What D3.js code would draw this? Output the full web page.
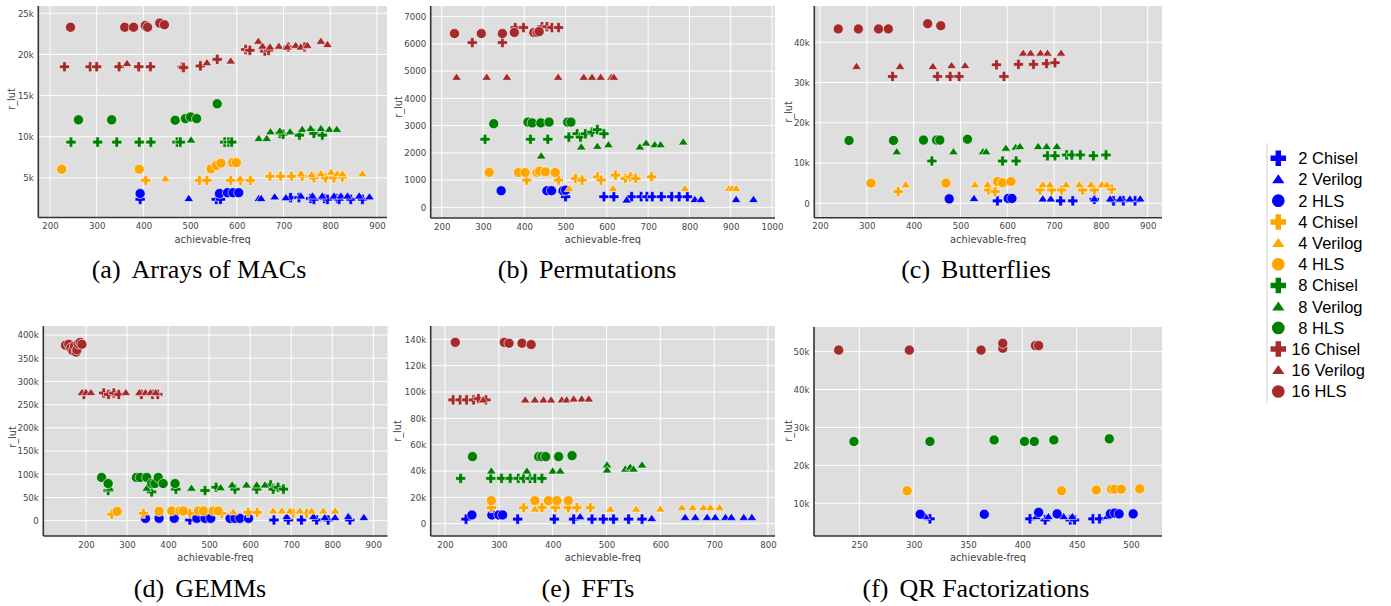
<!DOCTYPE html>
<html><head><meta charset="utf-8">
<script src="https://cdn.jsdelivr.net/npm/d3@7"></script>
<style>body{margin:0;background:#fff}svg{display:block}</style>
</head><body>
<svg id="chart" width="1391" height="606"></svg>
<script>
// ---------------- DATA ----------------
const seriesNames = ["2 Chisel","2 Verilog","2 HLS","4 Chisel","4 Verilog","4 HLS","8 Chisel","8 Verilog","8 HLS","16 Chisel","16 Verilog","16 HLS"];

// (a) Arrays of MACs: [series, [[achievable-freq, r_lut], ...]]
const macsData = [
 ["2 Chisel",[[393,2400],[556,2400],[565,2400],[715,2600],[733,2600],[758,2500],[765,2400],[787,2500],[794,2400],[815,2500],[819,2400],[844,2400],[869,2400]]],
 ["2 Verilog",[[497,2500],[647,2500],[652,2500],[681,2700],[705,2600],[737,2800],[762,2800],[783,2800],[808,2800],[823,2800],[837,2800],[862,2800],[884,2700]]],
 ["2 HLS",[[393,3100],[563,3100],[580,3200],[592,3200],[604,3200]]],
 ["4 Chisel",[[405,4700],[520,4700],[536,4700],[587,4700],[608,4700],[629,4700],[671,5200],[694,5200],[717,5200],[740,5200],[765,5000],[790,5000],[808,5000],[826,5100]]],
 ["4 Verilog",[[447,4900],[607,4900],[737,5500],[760,5400],[780,5500],[802,5700],[815,5500],[826,5500],[869,5500]]],
 ["4 HLS",[[225,6050],[391,6050],[545,6100],[556,6500],[566,6800],[591,6850],[599,6850]]],
 ["8 Chisel",[[245,9350],[302,9350],[343,9350],[391,9350],[416,9350],[472,9350],[479,9350],[574,9350],[582,9350],[589,9350],[692,10400],[699,10300],[734,10200],[765,10400],[783,10200]]],
 ["8 Verilog",[[502,9600],[647,9800],[664,9800],[672,10600],[692,10700],[714,10600],[740,10900],[758,11000],[780,11000],[798,10900],[814,10900]]],
 ["8 HLS",[[261,12050],[332,12050],[468,12000],[490,12200],[501,12400],[514,12200],[558,14000]]],
 ["16 Chisel",[[231,18500],[286,18500],[300,18500],[348,18500],[390,18500],[415,18500],[483,18500],[486,18400],[522,18600],[558,19400],[619,20600],[628,20500],[660,20400],[668,20500],[710,20900],[745,20900]]],
 ["16 Verilog",[[365,18900],[536,19000],[587,19200],[646,21600],[655,21000],[671,20900],[690,21000],[708,20900],[726,21100],[737,20900],[751,21100],[780,21600],[794,21200]]],
 ["16 HLS",[[244,23300],[360,23300],[379,23300],[404,23500],[409,23300],[435,23800],[445,23600]]]
];
const macsXTicks = [200,300,400,500,600,700,800,900];
const macsYTicks = [5000,10000,15000,20000,25000];
const macsYLabels = ["5k","10k","15k","20k","25k"];

// (b) Permutations
const permData = [
 ["2 Chisel",[[500,390],[593,390],[617,390],[660,390],[683,390],[697,390],[710,390],[732,390],[757,390],[775,390],[795,390]]],
 ["2 Verilog",[[648,270],[813,290],[828,290],[913,290],[955,290]]],
 ["2 HLS",[[344,610],[455,610],[466,610],[494,610],[500,630]]],
 ["4 Chisel",[[406,1000],[483,1000],[524,1060],[540,1000],[578,1120],[586,1000],[621,1180],[645,1060],[657,1120],[670,1060],[708,1120]]],
 ["4 Verilog",[[509,690],[615,690],[789,690],[896,690],[904,690],[913,690]]],
 ["4 HLS",[[315,1280],[386,1280],[402,1280],[431,1280],[437,1330],[451,1300],[475,1280]]],
 ["8 Chisel",[[305,2500],[415,2500],[457,2500],[508,2580],[528,2700],[536,2580],[548,2700],[564,2760],[577,2850],[593,2700]]],
 ["8 Verilog",[[441,1890],[538,2220],[577,2240],[604,2300],[680,2220],[695,2360],[716,2300],[730,2300],[785,2400]]],
 ["8 HLS",[[326,3070],[409,3130],[419,3100],[440,3100],[460,3130],[505,3130],[513,3130]]],
 ["16 Chisel",[[274,6050],[347,6050],[378,6600],[398,6600],[443,6630],[455,6630],[467,6600],[483,6600]]],
 ["16 Verilog",[[236,4775],[309,4775],[358,4775],[482,4775],[544,4775],[564,4775],[585,4775],[611,4775],[617,4775]]],
 ["16 HLS",[[231,6380],[296,6380],[347,6380],[376,6420],[423,6420],[431,6420],[436,6450]]]
];
const permXTicks = [200,300,400,500,600,700,800,900,1000];
const permYTicks = [0,1000,2000,3000,4000,5000,6000,7000];
const permYLabels = ["0","1000","2000","3000","4000","5000","6000","7000"];

// (c) Butterflies
const bflyData = [
 ["2 Chisel",[[579,600],[714,600],[740,600],[786,1000],[827,600],[848,600],[873,600]]],
 ["2 Verilog",[[529,1200],[676,1100],[693,1100],[786,1100],[820,1100],[841,1100],[862,1100],[884,1100]]],
 ["2 HLS",[[476,1100],[602,1200],[610,1200]]],
 ["4 Chisel",[[367,2900],[560,3300],[574,2900],[670,3300],[695,3300],[716,3300],[761,3300],[786,3300],[823,3500]]],
 ["4 Verilog",[[383,4600],[531,4600],[558,4600],[676,4600],[691,4600],[726,4600],[754,4600],[779,4600],[802,4600],[813,4600]]],
 ["4 HLS",[[309,5000],[469,5000],[579,5400],[590,5100],[608,5400]]],
 ["8 Chisel",[[439,10500],[590,10500],[619,10500],[686,11800],[702,11800],[727,12000],[738,12000],[756,12000],[784,11800],[811,12000]]],
 ["8 Verilog",[[364,12800],[485,12800],[548,12800],[555,12800],[597,13700],[618,13900],[627,14100],[666,14100],[684,14100],[706,14100]]],
 ["8 HLS",[[262,15600],[357,15600],[421,15700],[449,15700],[456,15700],[515,15900]]],
 ["16 Chisel",[[355,31500],[451,31500],[478,31500],[497,31500],[577,34400],[593,31500],[624,34500],[656,34500],[684,34700],[702,34900]]],
 ["16 Verilog",[[278,34000],[371,34000],[441,34000],[481,34200],[510,34200],[634,37300],[650,37300],[671,37300],[686,37300],[715,37300]]],
 ["16 HLS",[[239,43300],[282,43300],[325,43300],[346,43300],[430,44600],[458,44100]]]
];
const bflyXTicks = [200,300,400,500,600,700,800,900];
const bflyYTicks = [0,10000,20000,30000,40000];
const bflyYLabels = ["0","10k","20k","30k","40k"];

// (d) GEMMs
const gemmData = [
 ["2 Chisel",[[453,1500],[658,1500],[693,1500],[725,1500],[762,1500],[790,1500],[843,1500]]],
 ["2 Verilog",[[689,9000],[754,9000],[782,7000],[807,7000],[839,9000],[877,7000]]],
 ["2 HLS",[[345,5000],[378,5000],[415,5000],[470,5000],[490,5000],[504,5000],[551,5000],[563,5000],[575,5000],[596,5000]]],
 ["4 Chisel",[[263,14000],[340,16000],[453,16000],[531,16000],[595,18000],[617,18000],[705,16000],[738,16000]]],
 ["4 Verilog",[[559,19000],[656,21000],[677,21000],[697,21000],[721,21000],[750,21000],[778,21000],[807,21000]]],
 ["4 HLS",[[276,20000],[378,20000],[409,21000],[429,21000],[437,21000],[474,21000],[486,21000],[510,21000],[522,21000]]],
 ["8 Chisel",[[254,65000],[360,62000],[419,68000],[490,65000],[517,72000],[563,68000],[616,68000],[650,77000],[656,68000],[668,72000],[681,68000]]],
 ["8 Verilog",[[258,70000],[348,70000],[457,70000],[528,71000],[556,77000],[591,77000],[616,77000],[636,77000]]],
 ["8 HLS",[[238,93000],[254,80000],[323,93000],[332,93000],[348,93000],[360,80000],[368,80000],[376,93000],[388,80000],[417,80000]]],
 ["16 Chisel",[[195,272000],[243,275000],[255,272000],[268,275000],[280,272000],[335,272000],[362,272000],[375,272000]]],
 ["16 Verilog",[[190,276000],[200,276000],[212,276000],[297,276000],[330,276000],[345,276000],[357,276000],[370,276000]]],
 ["16 HLS",[[150,378000],[158,380000],[163,372000],[168,366000],[172,376000],[176,363000],[178,368000],[181,381000],[186,384000],[190,380000]]]
];
const gemmXTicks = [200,300,400,500,600,700,800,900];
const gemmYTicks = [0,50000,100000,150000,200000,250000,300000,350000,400000];
const gemmYLabels = ["0","50k","100k","150k","200k","250k","300k","350k","400k"];

// (e) FFTs
const fftData = [
 ["2 Chisel",[[239,3500],[335,3500],[403,3500],[439,3500],[473,3500],[494,3500],[513,3500],[541,3500],[566,3500]]],
 ["2 Verilog",[[451,5300],[584,4000],[646,4800],[665,4800],[687,4800],[702,4800],[721,4800],[732,4800],[755,4800],[770,4800]]],
 ["2 HLS",[[250,6600],[287,6600],[300,6600],[307,6600]]],
 ["4 Chisel",[[286,12200],[346,12200],[380,12200],[405,12200],[429,12200],[445,12200],[470,12200]]],
 ["4 Verilog",[[367,11100],[507,11100],[555,11100],[600,11100],[640,12200],[660,12200],[680,12200],[693,12200],[710,12200]]],
 ["4 HLS",[[286,17500],[367,17500],[392,17500],[408,17500],[429,17500]]],
 ["8 Chisel",[[229,34400],[285,34400],[305,34400],[321,34400],[336,34400],[346,34400],[358,34400],[367,34400],[380,34400]]],
 ["8 Verilog",[[286,40000],[352,40000],[400,40000],[414,40000],[501,44600],[501,40800],[535,41500],[544,43000],[550,41500],[566,44600]]],
 ["8 HLS",[[251,50900],[374,50900],[380,50900],[387,50900],[411,50900],[436,51700]]],
 ["16 Chisel",[[215,94000],[228,94000],[240,94000],[253,94000],[262,95000],[276,94000]]],
 ["16 Verilog",[[271,94000],[349,94000],[367,94000],[383,94000],[397,94000],[417,94000],[426,94000],[439,94700],[454,94700],[467,94700]]],
 ["16 HLS",[[219,137700],[310,137700],[319,137000],[343,137000],[360,136000]]]
];
const fftXTicks = [200,300,400,500,600,700,800];
const fftYTicks = [0,20000,40000,60000,80000,100000,120000,140000];
const fftYLabels = ["0","20k","40k","60k","80k","100k","120k","140k"];

// (f) QR Factorizations
const qrData = [
 ["2 Chisel",[[315,5900],[407,5900],[421,5600],[444,5600],[448,5600],[465,5900],[471,5900]]],
 ["2 Verilog",[[311,6500],[413,6500],[424,6500],[438,6500],[446,6500],[478,6500]]],
 ["2 HLS",[[306,7100],[365,7100],[415,7600],[432,7200],[481,7200],[485,7400],[489,7200],[502,7200]]],
 ["4 HLS",[[294,13300],[436,13300],[468,13500],[482,13700],[485,13700],[491,13700],[508,13800]]],
 ["8 HLS",[[245,26300],[315,26300],[374,26700],[402,26300],[411,26300],[429,26700],[480,27000]]],
 ["16 HLS",[[231,50400],[296,50400],[362,50400],[382,50900],[382,52200],[412,51600],[415,51600]]]
];
const qrXTicks = [250,300,350,400,450,500];
const qrYTicks = [10000,20000,30000,40000,50000];
const qrYLabels = ["10k","20k","30k","40k","50k"];

const captions = [["(a)","Arrays of MACs"],["(b)","Permutations"],["(c)","Butterflies"],["(d)","GEMMs"],["(e)","FFTs"],["(f)","QR Factorizations"]];

// ---------------- STYLE / LAYOUT ----------------
const sizeColor = {"2":"#0000ff","4":"#ffa500","8":"#008000","16":"#a52a2a"};
const tickFont = "DejaVu Sans, Verdana, sans-serif";

const panels = [
 {data:macsData, xt:macsXTicks, yt:macsYTicks, yl:macsYLabels, rect:[38.3,387,6,217.5], xd:[175,921.5], yd:[190,25880], cap:captions[0], capX:199, capY:278, ytX:12, ytY:99},
 {data:permData, xt:permXTicks, yt:permYTicks, yl:permYLabels, rect:[430.7,775,6,218], xd:[173.4,1007.2], yd:[-391,7391], cap:captions[1], capX:587, capY:278, ytX:399, ytY:107},
 {data:bflyData, xt:bflyXTicks, yt:bflyYTicks, yl:bflyYLabels, rect:[814.3,1162,6,217.7], xd:[187.8,930.6], yd:[-3580,49000], cap:captions[2], capX:976, capY:278, ytX:789, ytY:112},
 {data:gemmData, xt:gemmXTicks, yt:gemmYTicks, yl:gemmYLabels, rect:[43.3,387.5,326,536], xd:[96,934.6], yd:[-33000,419400], cap:captions[3], capX:200, capY:597, ytX:12.5, ytY:437},
 {data:fftData, xt:fftXTicks, yt:fftYTicks, yl:fftYLabels, rect:[430.7,775,326,536], xd:[173.4,813], yd:[-9340,150100], cap:captions[4], capX:588, capY:597, ytX:398, ytY:431},
 {data:qrData, xt:qrXTicks, yt:qrYTicks, yl:qrYLabels, rect:[814,1162,327,536], xd:[208.3,528.5], yd:[1370,56500], cap:captions[5], capX:976, capY:597, ytX:789, ytY:431}
];

function markerPath(tool, k) {
  const p = d3.path();
  if (tool === "Chisel") {
    const a = 5.1*k, t = 1.8*k;
    p.moveTo(-t,-a); p.lineTo(t,-a); p.lineTo(t,-t); p.lineTo(a,-t); p.lineTo(a,t); p.lineTo(t,t);
    p.lineTo(t,a); p.lineTo(-t,a); p.lineTo(-t,t); p.lineTo(-a,t); p.lineTo(-a,-t); p.lineTo(-t,-t); p.closePath();
  } else if (tool === "Verilog") {
    const w = 4.9*k, h = 7.2*k;
    p.moveTo(0,-h*0.58); p.lineTo(w,h*0.42); p.lineTo(-w,h*0.42); p.closePath();
  } else {
    const r = 5.05*k;
    p.moveTo(r,0); p.arc(0,0,r,0,2*Math.PI); p.closePath();
  }
  return p.toString();
}

const svg = d3.select("#chart");

panels.forEach(P => {
  const [l,r,t,b] = P.rect;
  const x = d3.scaleLinear().domain(P.xd).range([l,r]);
  const y = d3.scaleLinear().domain(P.yd).range([b,t]);
  const g = svg.append("g");
  g.append("rect").attr("x",l).attr("y",t).attr("width",r-l).attr("height",b-t).attr("fill","#dedede");
  g.selectAll(".gx").data(P.xt).join("line").attr("x1",d=>x(d)).attr("x2",d=>x(d)).attr("y1",t).attr("y2",b)
    .attr("stroke","#fff").attr("stroke-width",1);
  g.selectAll(".gy").data(P.yt).join("line").attr("y1",d=>y(d)).attr("y2",d=>y(d)).attr("x1",l).attr("x2",r)
    .attr("stroke","#fff").attr("stroke-width",1);
  const xa = d3.axisBottom(x).tickValues(P.xt).tickSize(0).tickPadding(0).tickFormat(d3.format("d"));
  const ya = d3.axisLeft(y).tickValues(P.yt).tickSize(0).tickPadding(0).tickFormat((d,i)=>P.yl[i]);
  const gx = g.append("g").attr("transform",`translate(0,${b})`).call(xa);
  gx.select(".domain").remove();
  gx.selectAll("text").attr("y",11.5).attr("dy",0).attr("font-family",tickFont).attr("font-size",8.6).attr("fill","#444");
  const gy = g.append("g").attr("transform",`translate(${l},0)`).call(ya);
  gy.select(".domain").remove();
  gy.selectAll("text").attr("x",-4.5).attr("dy","0.33em").attr("font-family",tickFont).attr("font-size",8.6).attr("fill","#444");
  seriesNames.forEach(name => {
    const s = P.data.find(d => d[0] === name);
    if (!s) return;
    const [sz, tool] = name.split(" ");
    g.append("g").selectAll("path").data(s[1]).join("path")
      .attr("d", markerPath(tool,1))
      .attr("transform", d => `translate(${x(d[0])},${y(d[1])})`)
      .attr("fill", sizeColor[sz]).attr("stroke","#fff").attr("stroke-width",0.6);
  });
  g.append("line").attr("x1",l).attr("x2",l).attr("y1",t).attr("y2",b).attr("stroke","#333").attr("stroke-width",1.6);
  g.append("line").attr("x1",l).attr("x2",r).attr("y1",b).attr("y2",b).attr("stroke","#333").attr("stroke-width",1.6);
  g.append("text").attr("x",(l+r)/2).attr("y",b+25).attr("text-anchor","middle")
    .attr("font-family",tickFont).attr("font-size",9.8).attr("fill","#444").text("achievable-freq");
  g.append("text").attr("transform",`translate(${P.ytX+3},${P.ytY}) rotate(-90)`).attr("text-anchor","middle")
    .attr("font-family",tickFont).attr("font-size",9.8).attr("fill","#444").text("r_lut");
  const c = g.append("text").attr("x",P.capX).attr("y",P.capY).attr("text-anchor","middle")
    .attr("font-family","Liberation Serif, Times New Roman, serif").attr("font-size",26).attr("fill","#000");
  c.append("tspan").text(P.cap[0]);
  c.append("tspan").attr("dx",11).text(P.cap[1]);
});

// legend
const lg = svg.append("g");
lg.append("line").attr("x1",1267).attr("x2",1267).attr("y1",143).attr("y2",403).attr("stroke","#d0d0d0").attr("stroke-width",1);
seriesNames.forEach((name,i) => {
  const [sz, tool] = name.split(" ");
  const yy = 158.3 + i*21.2;
  lg.append("path").attr("d", markerPath(tool, tool==="Chisel"?1.52:(tool==="Verilog"?1.25:1.26)))
    .attr("transform",`translate(1278.3,${yy})`).attr("fill",sizeColor[sz]);
  lg.append("text").attr("x", sz.length>1?1291.5:1298.3).attr("y",yy).attr("dy","0.36em")
    .attr("font-family","Liberation Sans, Arial, sans-serif").attr("font-size",16.5).attr("fill","#000").text(name);
});
</script>
</body></html>
